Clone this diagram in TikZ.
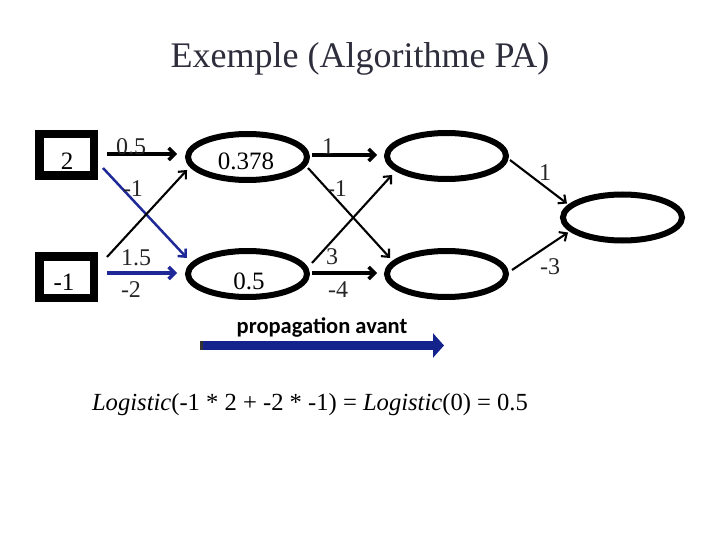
\documentclass[tikz,border=0pt]{standalone}
\usepackage{fontspec}
\setmainfont{Liberation Serif}
\newfontfamily\calib{Carlito}
\usetikzlibrary{arrows.meta,calc,shapes.geometric,shadows}
\definecolor{titlegray}{RGB}{45,45,60}
\definecolor{netblue}{RGB}{30,40,150}
\definecolor{bigblue}{RGB}{20,35,140}
\tikzset{
  inbox/.style={draw=black,fill=white,line width=8.5pt,minimum width=54.5pt,minimum height=41.5pt,inner sep=0pt,
    drop shadow={shadow xshift=2pt,shadow yshift=-2pt,opacity=0.15}},
  neuron/.style={draw=black,fill=white,ellipse,line width=6pt,minimum width=119pt,minimum height=46pt,inner sep=0pt,
    drop shadow={shadow xshift=2pt,shadow yshift=-2pt,opacity=0.15}},
  txt/.style={font=\fontsize{25}{25}\selectfont,inner sep=0pt},
  wlab/.style={font=\fontsize{24}{24}\selectfont,inner sep=0pt,text=black!85},
  thick arrow/.style={line width=3.4pt,-{Straight Barb[length=6pt,width=12pt]}},
  thin arrow/.style={line width=2.1pt,-{Straight Barb[length=6pt,width=11pt]}},
}
\begin{document}
\begin{tikzpicture}[x=1pt,y=-1pt]
\useasboundingbox (0,0) rectangle (720,540);
% title
\node[font=\fontsize{36}{36}\selectfont,text=titlegray] (title) at (360,59) {Exemple (Algorithme PA)};
% nodes
\node[inbox] (in1) at (66.5,155) {};
\node[inbox] (in2) at (66.5,277) {};
\node[neuron] (h1) at (247.5,157) {};
\node[neuron] (h2) at (247.5,274) {};
\node[neuron] (h3) at (446.5,156) {};
\node[neuron] (h4) at (446.5,274) {};
\node[neuron] (out) at (622.5,217.5) {};
% node texts
\node[txt] (t1) at (67,161) {2};
\node[txt] (t2) at (64,282) {-1};
\node[txt] (t3) at (246,161) {0.378};
\node[txt] (t4) at (249,281) {0.5};
% connectors
\draw[thick arrow] ($(in1.east)+(9,-1)$) -- ($(h1.west)+(-8,-3)$);
\draw[thin arrow,netblue,line width=2.5pt] ($(in1.east)+(5,13)$) -- ($(h2.west)+(2,-16)$);
\draw[thin arrow] ($(in2.north east)+(9,5)$) -- ($(h1.west)+(2,13)$);
\draw[thick arrow,netblue] ($(in2.east)+(9,-4)$) -- ($(h2.west)+(-8,-1)$);
\draw[thick arrow] ($(h1.east)+(2,-2)$) -- ($(h3.west)+(-7,-1)$);
\draw[thin arrow] ($(h1.east)+(-2,11)$) -- ($(h4.west)+(6,-16)$);
\draw[thin arrow] ($(h2.east)+(2,-11)$) -- ($(h3.west)+(8,19)$);
\draw[thick arrow] ($(h2.east)+(2,-1)$) -- ($(h4.west)+(-7,-1)$);
\draw[thin arrow] ($(h3.east)+(1,4)$) -- ($(out.west)+(7,-14)$);
\draw[thin arrow] ($(h4.east)+(3,-4)$) -- ($(out.west)+(8,15)$);
% weight labels
\node[wlab] (w1) at (131,147) {0.5};
\node[wlab] (w2) at (133,189) {-1};
\node[wlab] (w3) at (136,258) {1.5};
\node[wlab] (w4) at (131,290) {-2};
\node[wlab] (w5) at (328,147) {1};
\node[wlab] (w6) at (337,189) {-1};
\node[wlab] (w7) at (332,257) {3};
\node[wlab] (w8) at (338,290) {-4};
\node[wlab] (w9) at (545,173) {1};
\node[wlab] (w10) at (550,267) {-3};
% propagation arrow
\node[font=\calib\bfseries\fontsize{22.5}{22.5}\selectfont,inner sep=0pt] (prop) at (322,327) {propagation avant};
\coordinate (pa1) at (200,345.5);
\coordinate (pa2) at (444,345.5);
\draw[bigblue,line width=9pt,-{Triangle[length=11pt,width=24pt]}] (pa1) -- (pa2);
\draw[black!80,line width=3pt] ($(pa1)+(1.5,-4.5)$) -- ($(pa1)+(1.5,4.5)$);
% formula
\node[font=\fontsize{24.6}{24.6}\selectfont,inner sep=0pt] (form) at (310,405)
  {\textit{Logistic}(-1 * 2 + -2 * -1) = \textit{Logistic}(0) = 0.5};
\end{tikzpicture}
\end{document}
